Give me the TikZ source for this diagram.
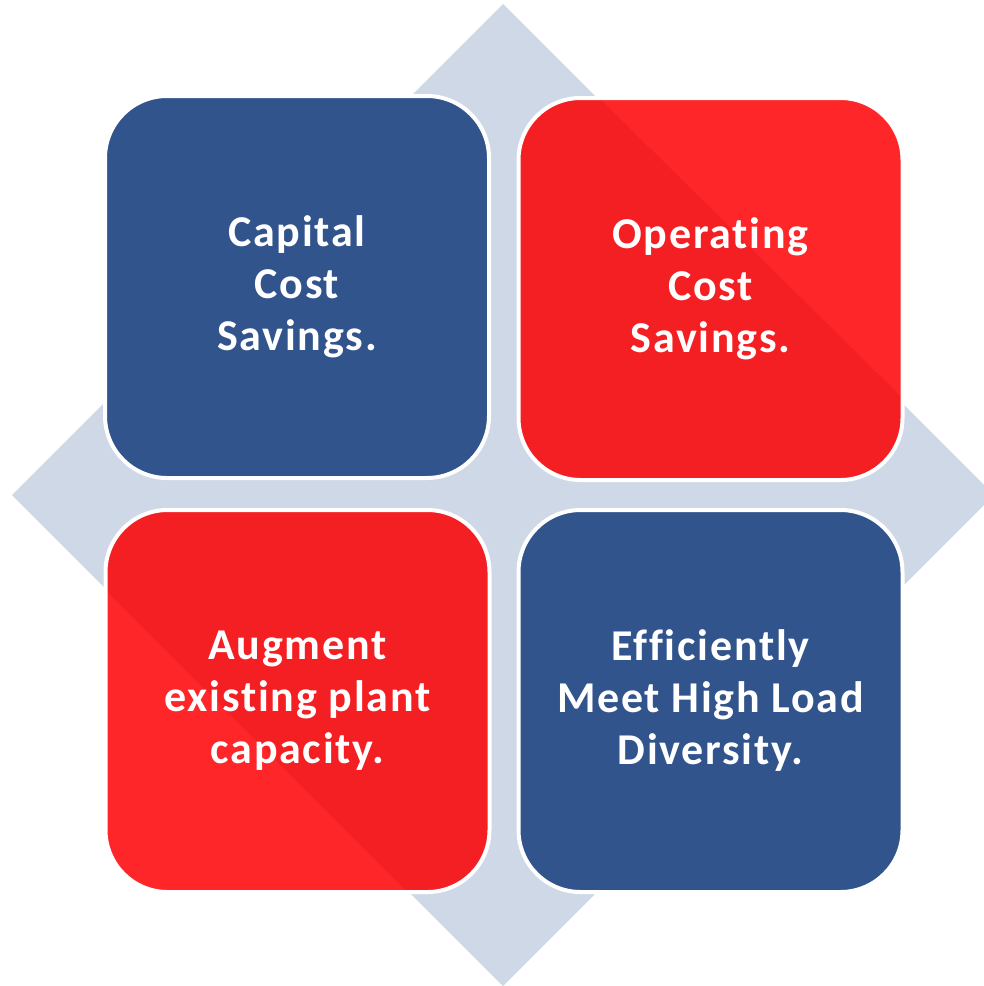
\documentclass[tikz,border=0pt]{standalone}
\usepackage{fontspec}
\setmainfont{Carlito}[Ligatures={NoCommon}]
\newfontfamily\boxfont{Carlito}[Ligatures={NoCommon},LetterSpace=4,BoldFont={* Bold},BoldFeatures={LetterSpace=4}]
\usetikzlibrary{calc}
\definecolor{dia}{HTML}{CFD8E7}
\definecolor{bluebox}{HTML}{32548C}
\definecolor{reddark}{HTML}{F41F22}
\definecolor{redlight}{HTML}{FE2628}
\tikzset{
  quad/.style={draw=white, line width=4pt, rounded corners=62pt,
    minimum width=384pt, minimum height=382pt, inner sep=0pt,
    align=center, text=white,
    font=\boxfont\fontsize{44}{52}\selectfont\bfseries},
  bluequad/.style={quad, fill=bluebox},
  redquad/.style={quad, fill=reddark},
}
\begin{document}
\begin{tikzpicture}[x=1pt,y=-1pt]
\useasboundingbox (0,0) rectangle (984,986);
\begin{scope}
\clip (0,0) rectangle (984,986);
\fill[dia] (12,495) -- (503,4) -- (994,495) -- (503,986) -- cycle;
\end{scope}
\node[bluequad] (cap) at (297,287) {Capital\\Cost\\Savings.};
\node[redquad, path picture={
  \fill[redlight, sharp corners] ($(path picture bounding box.north west)+(81,0)$)
    -- (path picture bounding box.north east)
    -- ($(path picture bounding box.north east)+(0,300)$) -- cycle;}]
  (op) at (710.5,289) {Operating\\Cost\\Savings.};
\node[redquad, path picture={
  \fill[redlight, sharp corners] ($(path picture bounding box.north west)+(0,80)$)
    -- (path picture bounding box.south west)
    -- ($(path picture bounding box.south west)+(302,0)$) -- cycle;}]
  (aug) at (297.5,701) {Augment\\existing plant\\capacity.};
\node[bluequad] (eff) at (710.5,701) {Efficiently\\Meet High Load\\Diversity.};
\end{tikzpicture}
\end{document}
